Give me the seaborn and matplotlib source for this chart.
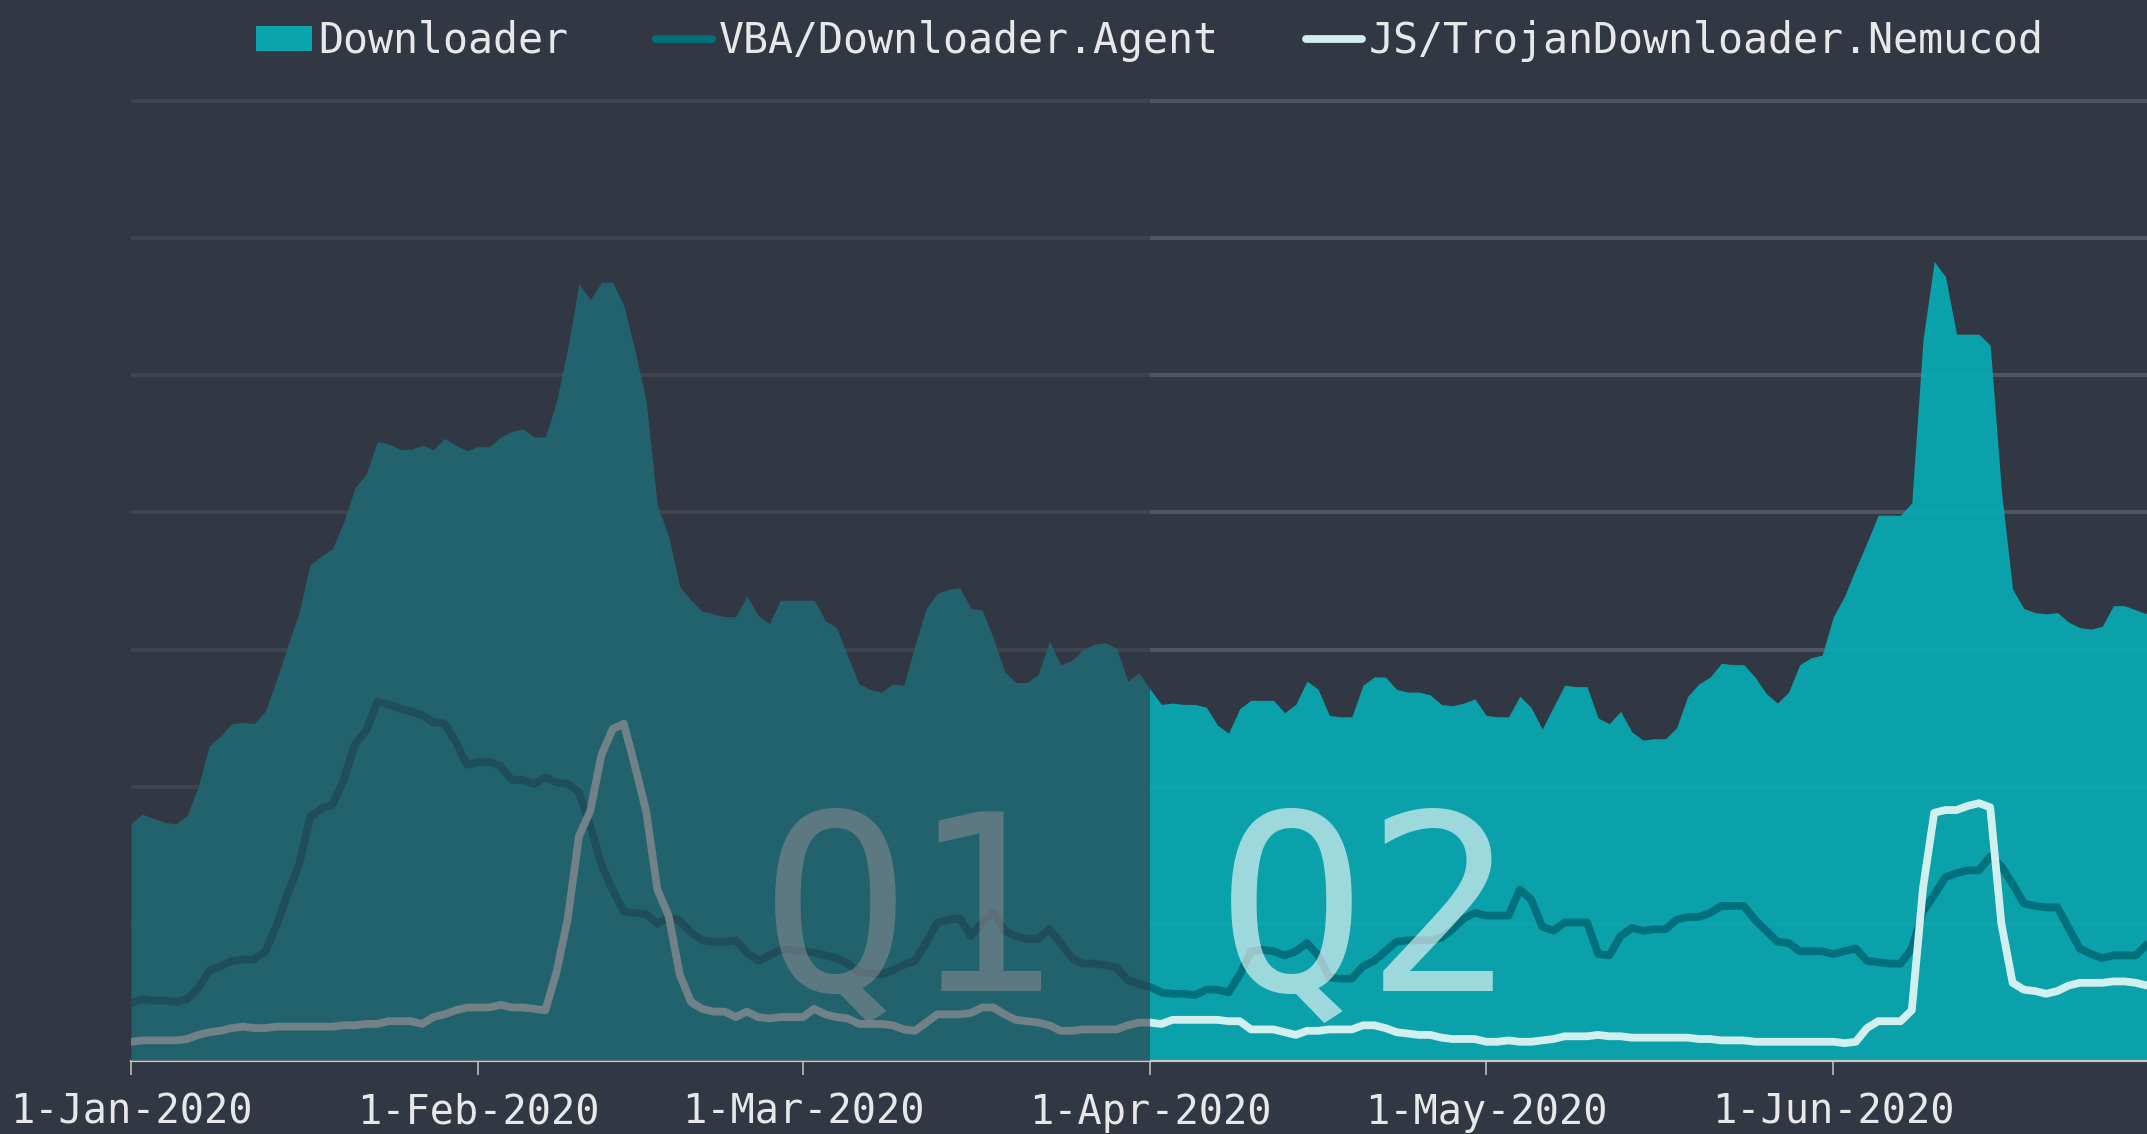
import numpy as np
import pandas as pd
import matplotlib
matplotlib.use("Agg")
import matplotlib.pyplot as plt
import matplotlib.dates as mdates
from matplotlib.patches import Patch
from matplotlib.lines import Line2D
import seaborn as sns

# daily values, 1-Jan-2020 .. 29-Jun-2020 (arbitrary units, gridline step = 1)
downloader = [
    1.73, 1.80, 1.77, 1.74, 1.73, 1.79, 2.00, 2.30, 2.37, 2.46,
    2.47, 2.46, 2.55, 2.78, 3.03, 3.27, 3.62, 3.68, 3.74, 3.93,
    4.18, 4.28, 4.52, 4.50, 4.46, 4.46, 4.49, 4.46, 4.54, 4.49,
    4.45, 4.48, 4.48, 4.55, 4.59, 4.61, 4.55, 4.55, 4.81, 5.20,
    5.67, 5.55, 5.68, 5.68, 5.51, 5.18, 4.81, 4.05, 3.83, 3.46,
    3.36, 3.28, 3.26, 3.24, 3.24, 3.39, 3.25, 3.19, 3.36, 3.36,
    3.36, 3.36, 3.21, 3.16, 2.95, 2.75, 2.71, 2.69, 2.75, 2.74,
    3.03, 3.30, 3.41, 3.44, 3.45, 3.30, 3.29, 3.08, 2.84, 2.76,
    2.76, 2.82, 3.06, 2.89, 2.92, 3.00, 3.04, 3.05, 3.01, 2.77,
    2.83, 2.71, 2.60, 2.61, 2.60, 2.60, 2.58, 2.45, 2.39, 2.57,
    2.63, 2.63, 2.63, 2.54, 2.60, 2.77, 2.71, 2.52, 2.51, 2.51,
    2.74, 2.80, 2.80, 2.71, 2.69, 2.69, 2.67, 2.60, 2.59, 2.61,
    2.64, 2.52, 2.51, 2.51, 2.66, 2.58, 2.42, 2.58, 2.74, 2.73,
    2.73, 2.50, 2.46, 2.55, 2.40, 2.34, 2.35, 2.35, 2.43, 2.66,
    2.75, 2.80, 2.90, 2.89, 2.89, 2.80, 2.68, 2.61, 2.69, 2.89,
    2.94, 2.96, 3.24, 3.39, 3.59, 3.78, 3.98, 3.98, 3.98, 4.07,
    5.26, 5.83, 5.72, 5.30, 5.30, 5.30, 5.22, 4.16, 3.44, 3.30,
    3.27, 3.26, 3.27, 3.20, 3.16, 3.15, 3.17, 3.32, 3.32, 3.29,
    3.26,
]
vba_agent = [
    0.42, 0.45, 0.44, 0.44, 0.43, 0.45, 0.53, 0.66, 0.69, 0.73,
    0.74, 0.74, 0.80, 0.99, 1.22, 1.43, 1.78, 1.84, 1.87, 2.05,
    2.31, 2.41, 2.62, 2.60, 2.57, 2.55, 2.52, 2.47, 2.46, 2.33,
    2.16, 2.18, 2.18, 2.15, 2.05, 2.05, 2.02, 2.07, 2.03, 2.02,
    1.96, 1.72, 1.43, 1.25, 1.09, 1.08, 1.07, 1.00, 1.05, 1.02,
    0.94, 0.88, 0.87, 0.87, 0.88, 0.79, 0.73, 0.77, 0.81, 0.81,
    0.80, 0.79, 0.77, 0.75, 0.71, 0.65, 0.64, 0.63, 0.66, 0.70,
    0.73, 0.86, 1.01, 1.03, 1.04, 0.91, 1.01, 1.08, 0.95, 0.91,
    0.89, 0.89, 0.96, 0.86, 0.75, 0.71, 0.71, 0.70, 0.68, 0.59,
    0.56, 0.54, 0.50, 0.49, 0.49, 0.48, 0.52, 0.52, 0.50, 0.63,
    0.80, 0.81, 0.80, 0.77, 0.80, 0.86, 0.77, 0.61, 0.60, 0.60,
    0.69, 0.73, 0.80, 0.87, 0.88, 0.88, 0.88, 0.90, 0.96, 1.04,
    1.08, 1.06, 1.06, 1.06, 1.25, 1.18, 0.98, 0.95, 1.01, 1.01,
    1.01, 0.78, 0.77, 0.91, 0.97, 0.95, 0.96, 0.96, 1.03, 1.05,
    1.05, 1.08, 1.13, 1.13, 1.13, 1.03, 0.95, 0.87, 0.86, 0.80,
    0.80, 0.80, 0.78, 0.80, 0.82, 0.73, 0.72, 0.71, 0.71, 0.82,
    1.09, 1.21, 1.34, 1.37, 1.39, 1.39, 1.49, 1.42, 1.29, 1.15,
    1.13, 1.12, 1.12, 0.97, 0.82, 0.78, 0.75, 0.77, 0.77, 0.77,
    0.85,
]
nemucod = [
    0.14, 0.15, 0.15, 0.15, 0.15, 0.16, 0.19, 0.21, 0.22, 0.24,
    0.25, 0.24, 0.24, 0.25, 0.25, 0.25, 0.25, 0.25, 0.25, 0.26,
    0.26, 0.27, 0.27, 0.29, 0.29, 0.29, 0.27, 0.32, 0.34, 0.37,
    0.39, 0.39, 0.39, 0.41, 0.39, 0.39, 0.38, 0.37, 0.65, 1.04,
    1.64, 1.82, 2.23, 2.42, 2.46, 2.15, 1.82, 1.25, 1.06, 0.63,
    0.43, 0.38, 0.36, 0.36, 0.32, 0.36, 0.32, 0.31, 0.32, 0.32,
    0.32, 0.38, 0.34, 0.32, 0.31, 0.27, 0.27, 0.27, 0.26, 0.23,
    0.22, 0.28, 0.34, 0.34, 0.34, 0.35, 0.39, 0.39, 0.34, 0.30,
    0.29, 0.28, 0.26, 0.22, 0.22, 0.23, 0.23, 0.23, 0.23, 0.26,
    0.28, 0.28, 0.27, 0.30, 0.30, 0.30, 0.30, 0.30, 0.29, 0.29,
    0.23, 0.23, 0.23, 0.21, 0.19, 0.22, 0.22, 0.23, 0.23, 0.23,
    0.26, 0.26, 0.24, 0.21, 0.20, 0.19, 0.19, 0.17, 0.16, 0.16,
    0.16, 0.14, 0.14, 0.15, 0.14, 0.14, 0.15, 0.16, 0.18, 0.18,
    0.18, 0.19, 0.18, 0.18, 0.17, 0.17, 0.17, 0.17, 0.17, 0.17,
    0.16, 0.16, 0.15, 0.15, 0.15, 0.14, 0.14, 0.14, 0.14, 0.14,
    0.14, 0.14, 0.14, 0.13, 0.14, 0.24, 0.29, 0.29, 0.29, 0.37,
    1.26, 1.81, 1.83, 1.83, 1.86, 1.88, 1.85, 1.00, 0.57, 0.52,
    0.51, 0.49, 0.51, 0.55, 0.57, 0.57, 0.57, 0.58, 0.58, 0.57,
    0.55,
]
series_names = ["Downloader", "VBA/Downloader.Agent", "JS/TrojanDownloader.Nemucod"]
quarter_labels = ["Q1", "Q2"]

dates = pd.date_range("2020-01-01", periods=len(downloader), freq="D")
df = pd.DataFrame({"date": dates, "downloader": downloader,
                   "vba": vba_agent, "js": nemucod})

BG = "#313843"
TEAL = "#08abb4"
VBA_C = "#00707c"
JS_C = "#d2efef"
GRID = "#50565f"
TXT = "#e8e8e8"
LW = 5.6

sns.set_theme(style="dark", rc={"axes.facecolor": BG, "figure.facecolor": BG})
plt.rcParams["font.family"] = ["DejaVu Sans Mono", "DejaVu Sans"]

fig = plt.figure(figsize=(21.47, 11.34), dpi=100)
ax = fig.add_axes([0.061, 0.0644, 0.939, 0.8525])
ax.set_facecolor(BG)

ax.fill_between(df["date"], 0, df["downloader"], color=TEAL, alpha=0.92,
                linewidth=0, zorder=1)
sns.lineplot(data=df, x="date", y="vba", ax=ax, color=VBA_C, linewidth=LW,
             zorder=2, legend=False)
sns.lineplot(data=df, x="date", y="js", ax=ax, color=JS_C, linewidth=LW,
             zorder=3, legend=False)
for ln in ax.lines:
    ln.set_solid_joinstyle("round")

# big quarter labels
ax.text(pd.Timestamp("2020-03-10 12:00"), 0.51, quarter_labels[0], fontsize=178,
        color="white", alpha=0.6, ha="center", va="baseline", zorder=4)
ax.text(pd.Timestamp("2020-04-20 06:00"), 0.51, quarter_labels[1], fontsize=178,
        color="white", alpha=0.6, ha="center", va="baseline", zorder=4)

# dim Q1
ax.axvspan(pd.Timestamp("2020-01-01"), pd.Timestamp("2020-04-01"), color=BG,
           alpha=0.6, linewidth=0, zorder=5)

ax.set_xlim(dates[0], dates[-1])
ax.set_ylim(0, 7.05)
ax.set_yticks(range(1, 8))
ax.set_yticklabels([])
ax.yaxis.grid(True, color=GRID, linewidth=3)
ax.xaxis.grid(False)
ax.set_axisbelow(True)
ax.tick_params(axis="y", length=0)
ax.set_xlabel("")
ax.set_ylabel("")

ax.xaxis.set_major_locator(mdates.MonthLocator())
ax.xaxis.set_major_formatter(
    plt.FuncFormatter(lambda v, p: f"{mdates.num2date(v).day}-{mdates.num2date(v):%b-%Y}"))
ax.tick_params(axis="x", bottom=True, length=10, width=1.2, color="#bdbdbd",
               pad=13, labelsize=29, labelcolor=TXT)

for s in ["left", "right", "top"]:
    ax.spines[s].set_visible(False)
ax.spines["bottom"].set_color("#c8c8c8")
ax.spines["bottom"].set_linewidth(1.6)

handles = [
    Patch(facecolor="#0ba3ac", edgecolor="none"),
    Line2D([], [], color=VBA_C, linewidth=LW, solid_capstyle="round"),
    Line2D([], [], color=JS_C, linewidth=LW, solid_capstyle="round"),
]
fig.legend(handles, series_names, loc="center", bbox_to_anchor=(0.5356, 0.964),
           ncol=3, frameon=False, fontsize=30, labelcolor=TXT,
           handlelength=1.35, handleheight=0.55, handletextpad=0.15,
           columnspacing=2.1, borderpad=0)

fig.savefig("out.png", dpi=100, facecolor=BG)
